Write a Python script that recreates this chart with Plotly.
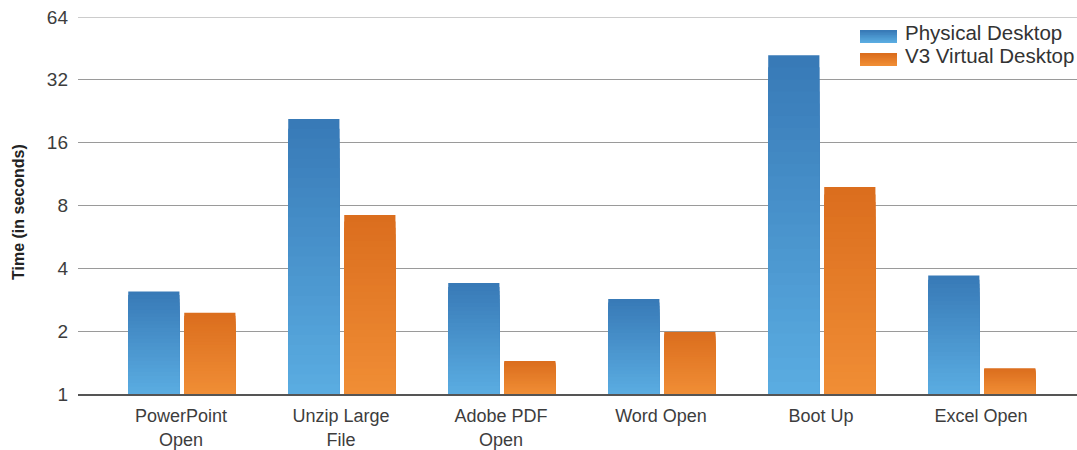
import plotly.graph_objects as go

categories = ["PowerPoint<br>Open", "Unzip Large<br>File", "Adobe PDF<br>Open",
              "Word Open", "Boot Up", "Excel Open"]
physical = [3.1, 20.8, 3.4, 2.85, 42.0, 3.7]
virtual = [2.45, 7.2, 1.44, 1.98, 9.8, 1.33]
tick_vals = [1, 2, 4, 8, 16, 32, 64]
series_names = ["Physical Desktop", "V3 Virtual Desktop"]
y_title = "Time (in seconds)"

blue_top, blue_bot = (56, 122, 183), (90, 172, 225)
orange_top, orange_bot = (219, 110, 30), (240, 141, 53)


def mix(c1, c2, t):
    return "rgb(%d,%d,%d)" % tuple(round(a + (b - a) * t) for a, b in zip(c1, c2))


fig = go.Figure()
N = 28
specs = [
    (physical, series_names[0], blue_top, blue_bot, -0.33),
    (virtual, series_names[1], orange_top, orange_bot, 0.02),
]
for vals, name, ctop, cbot, off in specs:
    for k in range(N):
        frac = 1 - k / N
        tops = [v ** frac for v in vals]
        fig.add_trace(go.Bar(
            x=categories,
            y=[t - 1 for t in tops],
            base=[1] * len(vals),
            offset=off,
            width=0.32,
            marker=dict(color=mix(ctop, cbot, k / (N - 1)), line=dict(width=0)),
            name=name,
            showlegend=False,
            hoverinfo="skip",
        ))

L, T, R, B = 78, 17, 0, 56
W, H = 1077.0 - L - R, 450.0 - T - B


def px_x(p):
    return (p - L) / W


def px_y(p):
    return (450 - B - p) / H


shapes = []
annotations = []
# top gridline (plotly drops grid lines that sit on the plot edge)
shapes.append(dict(type="line", xref="paper", yref="y", x0=0, x1=1,
                   y0=tick_vals[-1], y1=tick_vals[-1], layer="below",
                   line=dict(color="#9a9a9a", width=1)))
rows = [(30, 43, blue_top, blue_bot, series_names[0]),
        (53, 66, orange_top, orange_bot, series_names[1])]
shapes.append(dict(type="rect", xref="paper", yref="paper", layer="above",
                   x0=px_x(852), x1=1.0, y0=px_y(74), y1=px_y(22),
                   fillcolor="white", line=dict(width=0)))
for y0, y1, ct, cb, label in rows:
    steps = 8
    for s in range(steps):
        ya = y0 + (y1 - y0) * s / steps
        shapes.append(dict(type="rect", xref="paper", yref="paper", layer="above",
                           x0=px_x(860), x1=px_x(897),
                           y0=px_y(y1), y1=px_y(ya),
                           fillcolor=mix(ct, cb, s / (steps - 1)), line=dict(width=0)))
    annotations.append(dict(xref="paper", yref="paper", x=px_x(903),
                            y=px_y((y0 + y1) / 2 - 4), xanchor="left", yanchor="middle",
                            text=label, showarrow=False,
                            font=dict(size=20.5, color="#333333")))
annotations.append(dict(xref="paper", yref="paper", x=px_x(19), y=px_y(212),
                        xanchor="center", yanchor="middle", textangle=-90,
                        text="<b>%s</b>" % y_title, showarrow=False,
                        font=dict(size=16, color="#222222")))

fig.update_layout(
    width=1077, height=450,
    margin=dict(l=L, r=R, t=T, b=B),
    barmode="overlay",
    showlegend=False,
    plot_bgcolor="white", paper_bgcolor="white",
    font=dict(family="Liberation Sans, Arial, sans-serif", color="#333333"),
    shapes=shapes,
    annotations=annotations,
    xaxis=dict(
        type="category",
        range=[-0.644, 5.6],
        automargin=False,
        showline=True, linecolor="#555555", linewidth=1.5,
        ticks="", tickfont=dict(size=18, color="#3d3d3d"),
        ticklabelstandoff=5,
        showgrid=False,
    ),
    yaxis=dict(
        type="log",
        range=[0, 1.80618],
        automargin=False,
        tickvals=tick_vals,
        ticktext=[str(v) for v in tick_vals],
        tickfont=dict(size=19, color="#3d3d3d"),
        ticklabeloverflow="allow",
        showgrid=True, gridcolor="#9a9a9a", gridwidth=1,
        zeroline=False, showline=False, ticks="",
        ticklabelstandoff=9,
    ),
)

fig.write_html(
    "out.html",
    config={"displayModeBar": False},
    post_script="document.body.style.margin='0';document.body.style.overflow='hidden';",
)
